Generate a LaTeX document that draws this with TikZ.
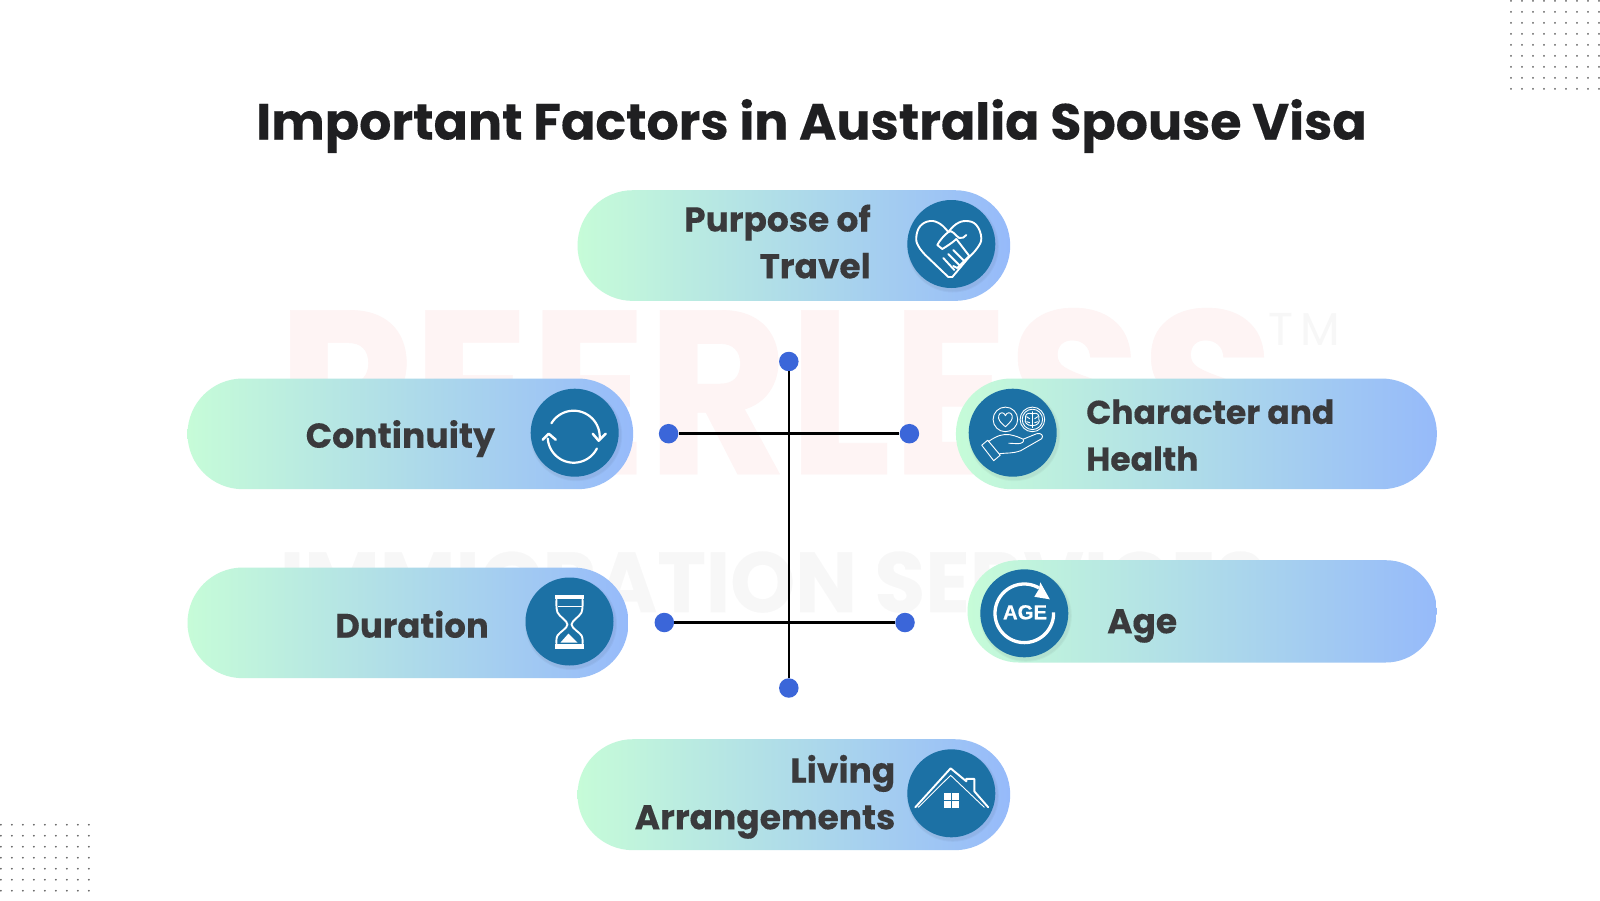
\documentclass[tikz,border=0pt]{standalone}
\usepackage{fontspec}
\setmainfont{Poppins}[BoldFeatures={FakeBold=0.25}]
\newfontfamily\agefont{Liberation Sans}[BoldFeatures={FakeBold=0.6}]
\definecolor{pillL}{RGB}{198,252,216}
\definecolor{pillR}{RGB}{150,186,250}
\definecolor{badgeblue}{RGB}{28,113,165}
\definecolor{dotblue}{RGB}{59,102,217}
\definecolor{ink}{RGB}{58,58,60}
\definecolor{titleink}{RGB}{31,31,33}
\definecolor{wmpink}{RGB}{254,244,244}
\definecolor{wmgray}{RGB}{247,247,247}
\tikzset{
  x=1pt,y=-1pt,
  pill/.style={inner sep=0pt,left color=pillL,right color=pillR,draw=none},
  badge/.style={circle,fill=badgeblue,inner sep=0pt,minimum size=88pt},
  enddot/.style={circle,fill=dotblue,inner sep=0pt,minimum size=19.5pt},
  hub/.style={black,line width=2.6pt},
  lbl/.style={text=ink,font=\fontsize{#1}{46.8}\selectfont\bfseries,inner sep=0pt},
  ico/.style={draw=white,line width=1.9pt,line cap=round,line join=round},
  icothin/.style={draw=white,line width=.9pt,line cap=round,line join=round},
  griddot/.style={fill=black!62},
}
\newcommand{\pillbox}[6]{% name, x1, y1, x2, y2, radius
  \node[pill,rounded corners=#6pt,anchor=north west,minimum width={#4pt-#2pt},minimum height={#5pt-#3pt}] (#1) at (#2,#3) {};
}
\newcommand{\badgeat}[3]{% name, cx, cy
  \foreach \rr in {46,45}{\fill[black,opacity=.03] (#2+1.5,#3+2.5) circle[radius=\rr];}
  \node[badge] (#1) at (#2,#3) {};
}
\begin{document}
\begin{tikzpicture}
\useasboundingbox (0,0) rectangle (1600,900);
\fill[white] (0,0) rectangle (1600,900);

% dot grids
\foreach \i in {0,...,8}{\foreach \j in {0,...,8}{\fill[griddot] (1511+11*\i,0.9+11*\j) circle[radius=.95];}}
\foreach \i in {0,...,8}{\foreach \j in {0,...,6}{\fill[griddot] (0.9+11*\i,824.7+11*\j) circle[radius=.95];}}

% watermark
\node[text=wmpink,font=\fontsize{233}{233}\selectfont\bfseries,inner sep=0pt,anchor=base,xscale=.93,transform shape] (wm1) at (776,474) {PEERLESS};
\node[text=wmgray,font=\fontsize{46}{46}\selectfont,inner sep=0pt,anchor=base west] (wm3) at (1268,345) {T\,M};
\node[text=wmgray,font=\fontsize{85}{85}\selectfont\bfseries,inner sep=0pt,anchor=base,xscale=.97,transform shape] (wm2) at (773,612) {IMMIGRATION SERVICES};

% title
\node[text=titleink,font=\fontsize{50.6}{58}\selectfont\bfseries,inner sep=0pt,anchor=base] (title) at (811.5,139.5) {Important Factors in Australia Spouse Visa};

% pills
\pillbox{p1}{577.3}{190}{1010}{300.7}{55.35}
\pillbox{p2}{187.3}{378.3}{633}{489}{55.35}
\pillbox{p3}{955.7}{378.3}{1436.7}{489}{55.35}
\pillbox{p4}{187.3}{567.3}{628.3}{678}{55.35}
\pillbox{p5}{967.3}{560}{1436.7}{662.3}{51.15}
\pillbox{p6}{577.3}{739}{1010}{850}{55.5}

% badges
\badgeat{b1}{951.3}{244}
\badgeat{b2}{574.7}{432.7}
\badgeat{b3}{1012.7}{432.7}
\badgeat{b4}{569.5}{621.5}
\badgeat{b5}{1024.3}{613.3}
\badgeat{b6}{951.3}{793.3}

% labels
\node[lbl=34.4,align=right,anchor=base east] (t1) at (871,278.3) {Purpose of\\Travel};
\node[lbl=34.7,anchor=base west] (t2) at (305.5,447.8) {Continuity};
\node[lbl=33,align=left,anchor=base west] (t3) at (1086,470.7) {Character and\\Health};
\node[lbl=34,anchor=base west] (t4) at (335,637.7) {Duration};
\node[lbl=34.4,anchor=base west] (t5) at (1107,633.3) {Age};
\node[lbl=34.5,align=right,anchor=base east] (t6) at (895.5,829.3) {Living\\Arrangements};

% hub
\node[enddot] (vt) at (788.8,361.5) {};
\node[enddot] (vb) at (788.8,688) {};
\node[enddot] (h1l) at (668.6,433.7) {};
\node[enddot] (h1r) at (909.4,433.7) {};
\node[enddot] (h2l) at (664.3,622.5) {};
\node[enddot] (h2r) at (905,622.5) {};
\draw[hub] (vt) -- (vb);
\draw[hub] (h1l) -- (h1r);
\draw[hub] (h2l) -- (h2r);

% icon: handshake heart
\begin{scope}[shift={(b1.center)}]
\draw[ico] plot[smooth,tension=.7] coordinates {(-26,11) (-33,2) (-35,-7) (-31,-18) (-21,-23) (-11,-20) (-3,-12)};
\draw[ico] (-3,-12) .. controls (-8,-8) and (-12,-3) .. (-14,1) -- (-9,5) .. controls (-4,2) and (2,-2) .. (5,-5);
\draw[ico] (-3,-12) .. controls (1,-15) and (3,-9) .. (8,-6) .. controls (11,-5) and (13,-7) .. (15,-9);
\draw[ico] plot[smooth,tension=.7] coordinates {(-3,-12) (5,-20) (15,-23) (25,-19) (30,-6) (26,4) (17,14)};
\draw[ico] (5,-5) -- (18,12) -- (6,24) -- (2,22);
\draw[ico] (-26,11) -- (-3,33) -- (1,33) -- (17,14);
\draw[ico] (-3,10) -- (8,21);
\draw[ico] (-8,14) -- (3,26);
\draw[ico] (2,6) -- (13,17);
\end{scope}

% icon: cycle
\begin{scope}[shift={(b2.center)}]
\draw[ico,line width=2.2pt] plot[domain=211:364,samples=40] ({-1+26*cos(\x)},{4+26*sin(\x)});
\draw[ico,line width=2.2pt] plot[domain=176:27,samples=40] ({-1+26*cos(\x)},{4+26*sin(\x)});
\draw[ico,line width=2.5pt] (18,1) -- (24,8) -- (31,1);
\draw[ico,line width=2.5pt] (-32,7) -- (-26,1) -- (-19,7);
\end{scope}

% icon: character and health
\begin{scope}[shift={(b3.center)}]
\draw[icothin] (-7.3,-13.3) circle[radius=12.3];
\draw[icothin] (19.7,-13.3) circle[radius=12.3];
\draw[icothin] (19.7,-13.3) circle[radius=10.2];
\draw[icothin] (-7.3,-6) .. controls (-12,-10) and (-15,-13) .. (-14,-17) .. controls (-13,-21) and (-8.5,-21) .. (-7.3,-17) .. controls (-6,-21) and (-1.5,-21) .. (-0.5,-17) .. controls (0.5,-13) and (-3,-10) .. (-7.3,-6) -- cycle;
\draw[icothin] (19.7,-21) -- (19.7,-5);
\draw[icothin] (19.7,-19) .. controls (14,-21) and (12,-17) .. (13,-14) .. controls (11,-11) and (14,-7) .. (19.7,-7);
\draw[icothin] (19.7,-19) .. controls (25,-21) and (27,-17) .. (26,-14) .. controls (28,-11) and (25,-7) .. (19.7,-7);
\draw[icothin] (14,-16) -- (17,-14) (14,-11) -- (17,-10) (25,-16) -- (22,-14) (25,-11) -- (22,-10);
\draw[icothin] (-31,12.5) -- (-25,7.5) -- (-12.5,22.5) -- (-19,28) -- cycle;
\draw[icothin] (-24.5,9) .. controls (-16,3) and (-10,1) .. (-3,2) .. controls (3,3) and (7,5) .. (10.5,6.5) .. controls (12,9) and (9,11) .. (5,11) -- (-4,10.5);
\draw[icothin] (10.5,6.5) -- (24,1) .. controls (29,0) and (31,3) .. (29,6) -- (8,18) .. controls (0,21) and (-6,20) .. (-13,21);
\end{scope}

% icon: hourglass
\begin{scope}[shift={(b4.center)}]
\fill[white] (-15,-27) rectangle (14.5,-22.5);
\fill[white] (-15,22.5) rectangle (14.5,27);
\draw[ico] plot[smooth,tension=.55] coordinates {(-13,-22) (-12,-9) (-2,3) (-12,14) (-13,22)};
\draw[ico] plot[smooth,tension=.55] coordinates {(13,-22) (12,-9) (2,3) (12,14) (13,22)};
\fill[white] (-9,21) -- (-1,12) -- (8,21) -- cycle;
\draw[white,line width=.8pt] (-12,-15) -- (12,-15);
\end{scope}

% icon: age
\begin{scope}[shift={(b5.center)}]
\draw[white,line width=3.3pt] plot[domain=-2:300,samples=80] ({29.3*cos(\x)},{29.3*sin(\x)});
\fill[white] (16,-31) -- (25.5,-14) -- (10,-16.5) -- (14.5,-24) -- cycle;
\node[text=white,font=\agefont\fontsize{20.3}{20.3}\selectfont\bfseries,inner sep=0pt] (agetxt) at (0.7,-1) {AGE};
\end{scope}

% icon: house
\begin{scope}[shift={(b6.center)}]
\draw[ico] (-36,14) -- (-0.7,-25) -- (15,-12) -- (15,-14.5) -- (23,-14.5) -- (23,-2) -- (37,14);
\draw[icothin] (-33,14) -- (-0.7,-18) -- (33,14);
\fill[white] (-7.5,0) rectangle (-0.6,6.7);
\fill[white] (0.6,0) rectangle (7.5,6.7);
\fill[white] (-7.5,7.9) rectangle (-0.6,14.5);
\fill[white] (0.6,7.9) rectangle (7.5,14.5);
\end{scope}
\end{tikzpicture}
\end{document}
